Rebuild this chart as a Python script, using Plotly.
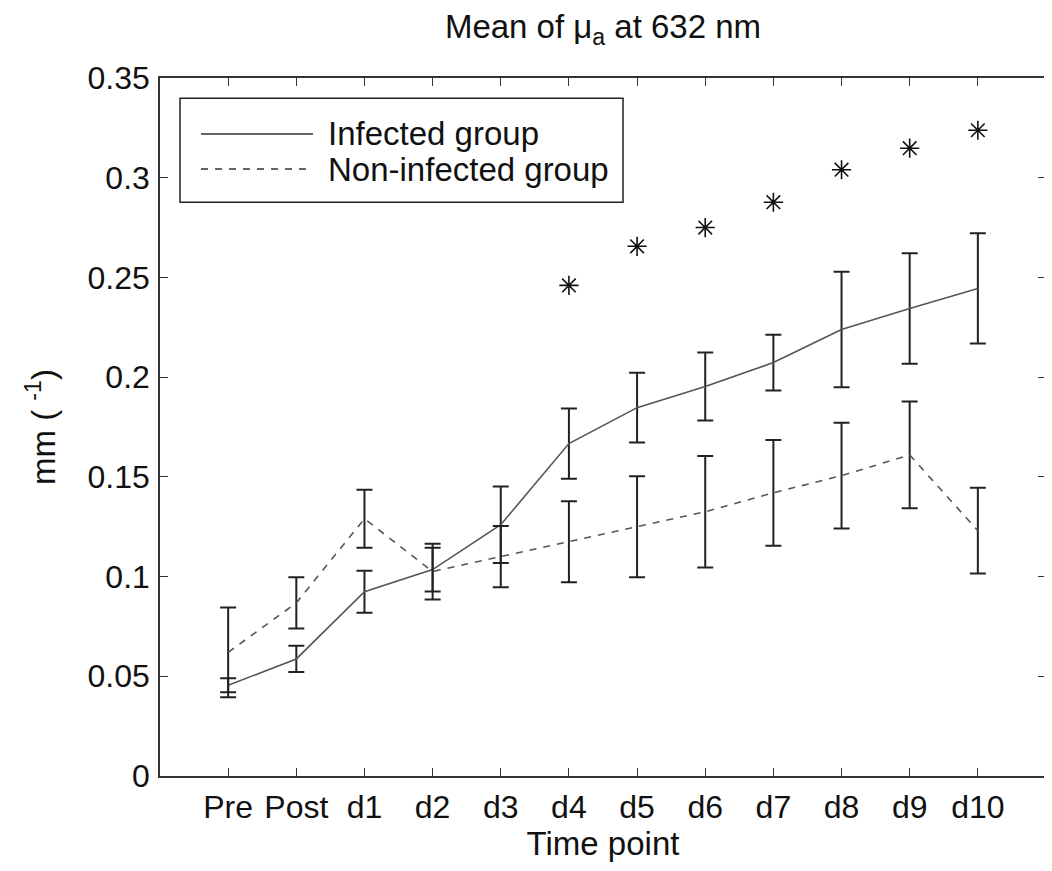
import plotly.graph_objects as go

categories = ["Pre", "Post", "d1", "d2", "d3", "d4", "d5", "d6", "d7", "d8", "d9", "d10"]
x_pos = list(range(1, 13))

infected_mean = [0.0455, 0.0587, 0.0924, 0.1035, 0.126, 0.1667, 0.1847, 0.1953, 0.2073, 0.2239, 0.2344, 0.2445]
infected_err = [0.0035, 0.0066, 0.0105, 0.011, 0.0192, 0.0176, 0.0175, 0.017, 0.014, 0.029, 0.0277, 0.0276]

noninf_mean = [0.062, 0.0868, 0.129, 0.1025, 0.110, 0.1175, 0.125, 0.1325, 0.142, 0.1506, 0.161, 0.123]
noninf_err = [0.0225, 0.0128, 0.0145, 0.014, 0.0153, 0.0203, 0.0253, 0.028, 0.0265, 0.0265, 0.0268, 0.0215]

star_x = [6, 7, 8, 9, 10, 11, 12]
star_y = [0.246, 0.2656, 0.275, 0.2877, 0.304, 0.3148, 0.3238]

FONT = "Liberation Sans, Arial, sans-serif"
FS_TICK = 32
FS = 33
fig = go.Figure()

fig.add_trace(go.Scatter(
    x=x_pos, y=infected_mean, mode="lines", name="Infected group",
    line=dict(color="#555555", width=1.6, dash="solid"),
    error_y=dict(type="data", array=infected_err, visible=True, color="#222222", thickness=2, width=8),
    showlegend=False))
fig.add_trace(go.Scatter(
    x=x_pos, y=noninf_mean, mode="lines", name="Non-infected group",
    line=dict(color="#555555", width=1.6, dash="7px,7px"),
    error_y=dict(type="data", array=noninf_err, visible=True, color="#222222", thickness=2, width=8),
    showlegend=False))
fig.add_trace(go.Scatter(
    x=star_x, y=star_y, mode="markers", name="significant",
    marker=dict(symbol="asterisk-open", size=16, color="#111111", line=dict(color="#111111", width=1.6)),
    showlegend=False))

# custom legend (MATLAB style)
fig.add_shape(type="rect", xref="paper", yref="paper", x0=0.0226, x1=0.5226, y0=0.822, y1=0.971,
              line=dict(color="#222222", width=1.5), fillcolor="white", layer="above")
fig.add_shape(type="line", xref="paper", yref="paper", x0=0.0463, x1=0.1727, y0=0.9198, y1=0.9198,
              line=dict(color="#333333", width=1.5), layer="above")
fig.add_shape(type="line", xref="paper", yref="paper", x0=0.0463, x1=0.1727, y0=0.8696, y1=0.8696,
              line=dict(color="#333333", width=1.5, dash="7px,7px"), layer="above")
fig.add_annotation(xref="paper", yref="paper", x=0.1874, y=0.9198, xanchor="left", yanchor="middle",
                   text="Infected group", showarrow=False, font=dict(size=FS, color="#111111", family=FONT))
fig.add_annotation(xref="paper", yref="paper", x=0.1874, y=0.8696, xanchor="left", yanchor="middle",
                   text="Non-infected group", showarrow=False, font=dict(size=FS, color="#111111", family=FONT))

fig.update_layout(
    width=1052, height=871,
    margin=dict(l=152, r=14, t=70, b=103, autoexpand=False),
    paper_bgcolor="white", plot_bgcolor="white",
    font=dict(family=FONT, size=FS, color="#111111"),
    title=dict(text="Mean of μ<sub>a</sub> at 632 nm", x=0.5, xref="paper", xanchor="center",
               y=0.992, yanchor="top", font=dict(size=FS, family=FONT, color="#111111")),
)
fig.update_xaxes(
    range=[0, 13], tickmode="array", tickvals=x_pos, ticktext=categories,
    showline=True, linecolor="#333333", linewidth=1.5, mirror="ticks",
    ticks="inside", ticklen=8, tickcolor="#333333", tickwidth=1.2,
    showgrid=False, zeroline=False,
    title=dict(text="Time point", font=dict(size=FS), standoff=2),
    tickfont=dict(size=FS_TICK), ticklabelstandoff=2)
fig.update_yaxes(
    range=[0, 0.35], tickmode="array",
    tickvals=[0, 0.05, 0.1, 0.15, 0.2, 0.25, 0.3, 0.35],
    ticktext=["0", "0.05", "0.1", "0.15", "0.2", "0.25", "0.3", "0.35"],
    showline=True, linecolor="#333333", linewidth=1.5, mirror="ticks",
    ticks="inside", ticklen=8, tickcolor="#333333", tickwidth=1.2,
    showgrid=False, zeroline=False,
    title=dict(text="mm ( <sup>-1</sup>)", font=dict(size=FS), standoff=22),
    tickfont=dict(size=FS_TICK), ticklabelstandoff=2)

fig.write_html("out.html")
